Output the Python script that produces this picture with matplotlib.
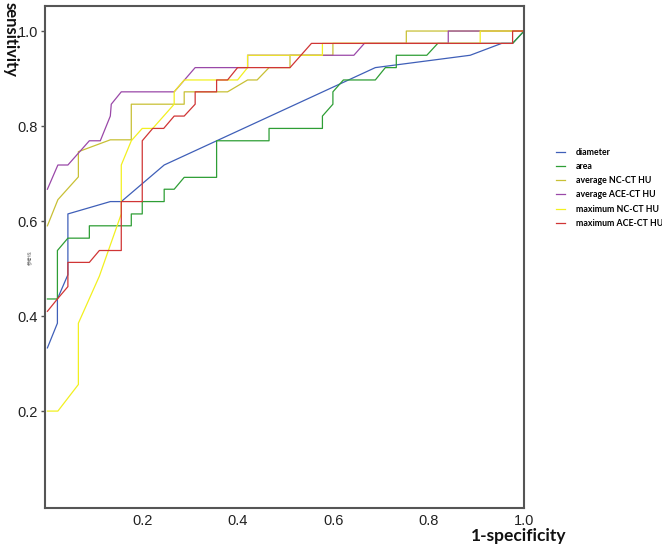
import matplotlib
matplotlib.use('Agg')
import matplotlib.pyplot as plt

# ROC curves, values (x = 1-specificity, y = sensitivity)
labels = ['diameter', 'area', 'average NC-CT HU', 'average ACE-CT HU',
          'maximum NC-CT HU', 'maximum ACE-CT HU']

diameter_x = [0, 0.021, 0.021, 0.043, 0.043, 0.132, 0.155, 0.245, 0.688, 0.887, 0.953, 0.976, 1.0]
diameter_y = [0.333, 0.385, 0.436, 0.487, 0.615, 0.641, 0.641, 0.718, 0.923, 0.949, 0.974, 0.974, 1.0]

area_x = [0, 0.021, 0.021, 0.043, 0.088, 0.088, 0.176, 0.176, 0.199, 0.199, 0.245, 0.245, 0.266,
          0.287, 0.355, 0.355, 0.465, 0.465, 0.577, 0.577, 0.599, 0.599, 0.621, 0.688, 0.709,
          0.732, 0.732, 0.796, 0.819, 0.976, 1.0]
area_y = [0.436, 0.436, 0.538, 0.564, 0.564, 0.590, 0.590, 0.615, 0.615, 0.641, 0.641, 0.667, 0.667,
          0.692, 0.692, 0.769, 0.769, 0.795, 0.795, 0.821, 0.846, 0.872, 0.897, 0.897, 0.923,
          0.923, 0.949, 0.949, 0.974, 0.974, 1.0]

avg_nc_x = [0, 0.022, 0.065, 0.065, 0.132, 0.176, 0.176, 0.287, 0.287, 0.378, 0.42, 0.44, 0.465,
            0.509, 0.509, 0.599, 0.599, 0.753, 0.753, 1.0]
avg_nc_y = [0.590, 0.645, 0.693, 0.746, 0.771, 0.771, 0.846, 0.846, 0.872, 0.872, 0.897, 0.897, 0.923,
            0.923, 0.949, 0.949, 0.974, 0.974, 1.0, 1.0]

avg_ace_x = [0, 0.022, 0.043, 0.088, 0.111, 0.132, 0.134, 0.155, 0.266, 0.31, 0.42, 0.42, 0.643,
             0.665, 0.841, 0.841, 1.0]
avg_ace_y = [0.667, 0.718, 0.718, 0.769, 0.769, 0.821, 0.846, 0.872, 0.872, 0.923, 0.923, 0.949, 0.949,
             0.974, 0.974, 1.0, 1.0]

max_nc_x = [0, 0.022, 0.065, 0.065, 0.109, 0.155, 0.155, 0.176, 0.199, 0.221, 0.266, 0.266, 0.287,
            0.399, 0.42, 0.42, 0.577, 0.577, 0.908, 0.908, 1.0]
max_nc_y = [0.2, 0.2, 0.256, 0.385, 0.484, 0.615, 0.718, 0.769, 0.795, 0.795, 0.846, 0.872, 0.897,
            0.897, 0.923, 0.949, 0.949, 0.974, 0.974, 1.0, 1.0]

max_ace_x = [0, 0.021, 0.043, 0.043, 0.088, 0.109, 0.155, 0.155, 0.199, 0.199, 0.221, 0.244, 0.266,
             0.287, 0.31, 0.31, 0.355, 0.355, 0.378, 0.399, 0.509, 0.554, 0.976, 0.976, 1.0]
max_ace_y = [0.41, 0.436, 0.462, 0.513, 0.513, 0.538, 0.538, 0.641, 0.641, 0.769, 0.795, 0.795, 0.821,
             0.821, 0.846, 0.872, 0.872, 0.897, 0.897, 0.923, 0.923, 0.974, 0.974, 1.0, 1.0]

xs = [diameter_x, area_x, avg_nc_x, avg_ace_x, max_nc_x, max_ace_x]
ys = [diameter_y, area_y, avg_nc_y, avg_ace_y, max_nc_y, max_ace_y]
colors = ['#3f5fb8', '#2e9e35', '#c8c035', '#9a48a8', '#f2f020', '#d03535']

tick_vals = [0.2, 0.4, 0.6, 0.8, 1.0]
tick_text = ['0.2', '0.4', '0.6', '0.8', '1.0']

fig = plt.figure(figsize=(6.62, 5.47), dpi=100)
ax = fig.add_axes([0.068, 0.0713, 0.7236, 0.918])

for x, y, c, lab in zip(xs, ys, colors, labels):
    ax.plot(x, y, color=c, linewidth=0.9, label=lab)

ax.set_xlim(-0.005, 1.0)
ax.set_ylim(-0.004, 1.053)
ax.set_xticks(tick_vals)
ax.set_xticklabels(tick_text)
ax.set_yticks(tick_vals)
ax.set_yticklabels(tick_text)
for lbl in ax.get_xticklabels() + ax.get_yticklabels():
    lbl.set_family('Liberation Sans')
    lbl.set_fontsize(10.5)
    lbl.set_color('#222222')
ax.tick_params(axis='y', length=3, width=1, color='#555555', pad=2)
ax.tick_params(axis='x', length=0, pad=4)
for s in ax.spines.values():
    s.set_color('#555555')
    s.set_linewidth(1.5)

fig.text(0.004, 0.997, 'sensitivity', rotation=270, ha='left', va='top',
         fontsize=12, fontweight='bold', family='Lato', color='#111111')
fig.text(0.855, 0.006, '1-specificity', ha='right', va='bottom',
         fontsize=12.5, fontweight='bold', family='Lato', color='#111111')
fig.text(0.045, 0.528, '参考线', rotation=90, ha='center', va='center',
         fontsize=3.5, family='Noto Sans CJK SC', color='#666666')

fig.legend(loc='upper left', bbox_to_anchor=(0.84, 0.73), frameon=False,
           borderpad=0, borderaxespad=0,
           prop={'family': 'Lato', 'weight': 'bold', 'size': 6.3},
           handlelength=1.0, handletextpad=1.3, labelspacing=0.6)

fig.savefig('out.png', dpi=100)
